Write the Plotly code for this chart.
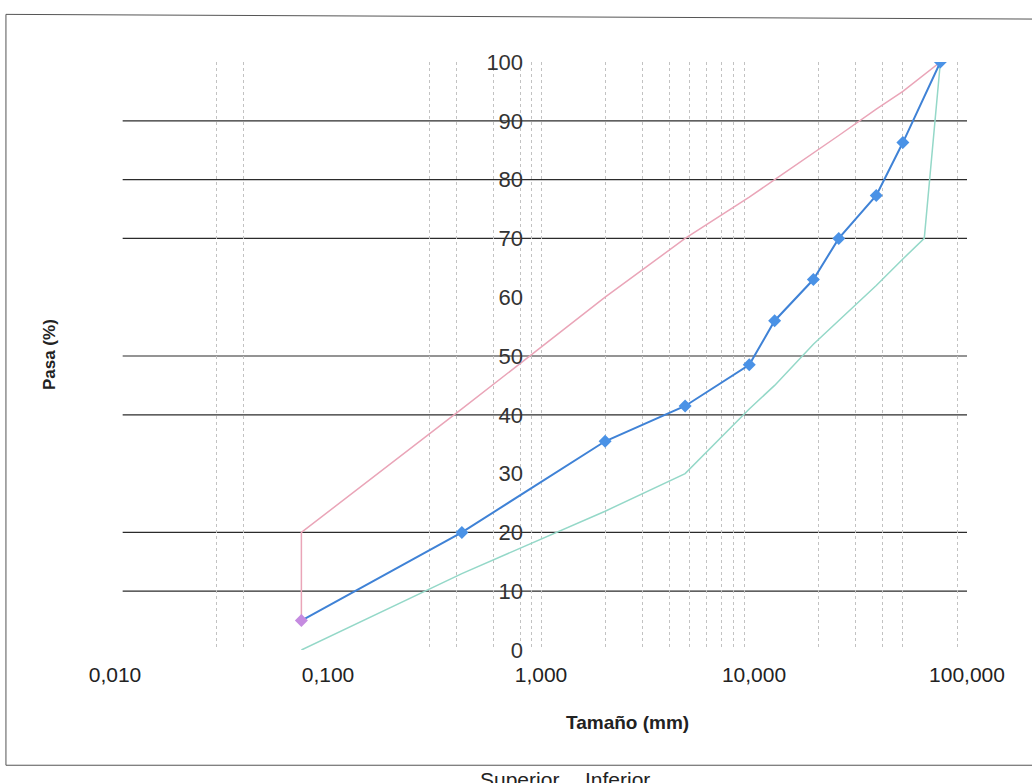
import plotly.graph_objects as go

# sieve sizes (mm) and percent passing
muestra_mm = [0.075, 0.425, 2.0, 4.75, 9.5, 12.5, 19.0, 25.0, 37.5, 50.0, 75.0]
muestra_pasa = [5, 20, 35.5, 41.5, 48.5, 56, 63, 70, 77.3, 86.3, 100]

superior_mm = [0.075, 0.075, 0.425, 2.0, 4.75, 9.5, 12.5, 19.0, 25.0, 37.5, 50.0, 75.0]
superior_pasa = [5, 20, 41, 60, 70, 77, 80, 84.5, 87.5, 92, 95, 100]

inferior_mm = [0.075, 0.425, 2.0, 4.75, 9.5, 12.5, 19.0, 25.0, 37.5, 50.0, 63.0, 75.0]
inferior_pasa = [0, 13, 23.6, 30, 41, 45, 52, 56, 62, 66.5, 70, 100]

x_ticks = [0.01, 0.1, 1, 10, 100]
x_ticktext = ["0,010", "0,100", "1,000", "10,000", "100,000"]
x_grid = [0.03, 0.04, 0.3, 0.4, 0.6, 0.8, 0.9, 1, 2, 3, 4, 5, 6, 7, 8, 9, 20, 30, 40, 50, 90]
y_ticks = list(range(0, 101, 10))
y_grid = [10, 20, 40, 50, 70, 80, 90]

fig = go.Figure()

fig.add_trace(
    go.Scatter(
        x=superior_mm,
        y=superior_pasa,
        mode="lines",
        name="Superior",
        line=dict(color="#eaa5b8", width=1.5),
    )
)

fig.add_trace(
    go.Scatter(
        x=inferior_mm,
        y=inferior_pasa,
        mode="lines",
        name="Inferior",
        line=dict(color="#94d8c8", width=1.5),
    )
)

fig.add_trace(
    go.Scatter(
        x=muestra_mm,
        y=muestra_pasa,
        mode="lines+markers",
        name="Muestra",
        line=dict(color="#3f82d6", width=2),
        marker=dict(
            symbol="diamond",
            size=10,
            color=["#c58be0"] + ["#4a92e6"] * (len(muestra_mm) - 1),
        ),
    )
)

for g in y_grid:
    fig.add_shape(
        type="line",
        xref="paper",
        yref="y",
        x0=0.009,
        x1=1,
        y0=g,
        y1=g,
        line=dict(color="#2b2b2b", width=1.2),
        layer="below",
    )

# chart border (left, top, bottom)
border = dict(color="#555555", width=1)
fig.add_shape(type="line", xref="paper", yref="paper", x0=-0.128, x1=-0.128, y0=-0.196, y1=1.081, line=border)
fig.add_shape(type="line", xref="paper", yref="paper", x0=-0.128, x1=1.08, y0=1.081, y1=1.073, line=border)
fig.add_shape(type="line", xref="paper", yref="paper", x0=-0.128, x1=1.08, y0=-0.196, y1=-0.196, line=border)

fig.add_annotation(
    text="<b>Pasa (%)</b>",
    xref="paper",
    yref="paper",
    x=-0.076,
    y=0.502,
    xanchor="center",
    yanchor="middle",
    textangle=-90,
    showarrow=False,
    font=dict(size=17, color="#222222"),
)

fig.add_annotation(
    text="<b>Tamaño (mm)</b>",
    xref="paper",
    yref="paper",
    x=0.602,
    y=-0.1226,
    xanchor="center",
    yanchor="middle",
    showarrow=False,
    font=dict(size=19, color="#222222"),
)

for label, xpos in [("Superior", 0.475), ("Inferior", 0.59)]:
    fig.add_annotation(
        text=label,
        xref="paper",
        yref="paper",
        x=xpos,
        y=-0.198,
        xanchor="center",
        yanchor="top",
        showarrow=False,
        font=dict(size=21, color="#222222"),
    )

fig.update_layout(
    width=1032,
    height=783,
    margin=dict(l=115, r=65, t=62, b=133),
    paper_bgcolor="white",
    plot_bgcolor="white",
    showlegend=False,
    font=dict(family="Liberation Sans, Arial, sans-serif", color="#222222"),
)

fig.update_xaxes(
    type="log",
    range=[-2, 2],
    tickvals=x_ticks,
    ticktext=x_ticktext,
    tickfont=dict(size=21),
    ticklabelstandoff=10,
    ticks="",
    showline=False,
    zeroline=False,
    showgrid=False,
    minor=dict(
        tickvals=x_grid,
        showgrid=True,
        gridcolor="#c2c2c2",
        griddash="3px,3px",
        gridwidth=1,
        ticks="",
    ),
)

fig.update_yaxes(
    range=[0, 100],
    tickvals=y_ticks,
    tickfont=dict(size=22, color="#333333"),
    ticks="",
    showgrid=False,
    zeroline=False,
    showline=False,
    anchor="free",
    position=0.479,
)

fig.write_html(
    "out.html",
    config={"displayModeBar": False},
    post_script="document.body.style.margin='0';",
)
